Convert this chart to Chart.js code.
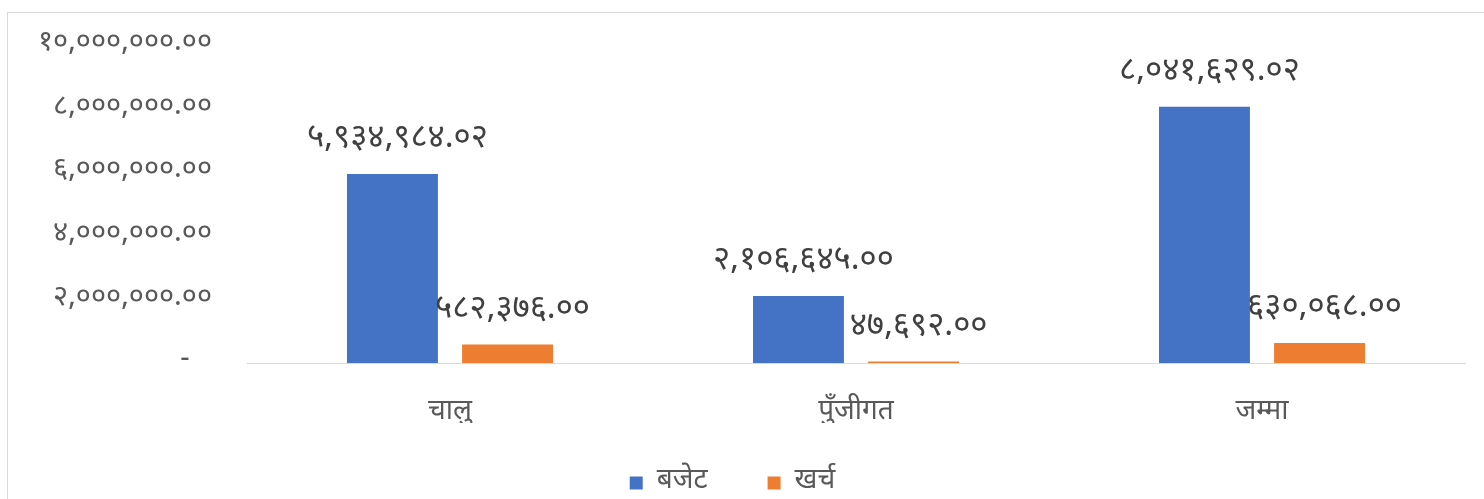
<!DOCTYPE html>
<html>
<head>
<meta charset="utf-8">
<script src="https://cdn.jsdelivr.net/npm/chart.js@4.4.1/dist/chart.umd.min.js"></script>
<style>
    html, body { margin: 0; padding: 0; width: 1484px; height: 499px; overflow: hidden; background: #fff; }
    #frame { position: absolute; left: 7px; top: 12px; width: 1600px; height: 600px; border: 1px solid #d9d9d9; box-sizing: border-box; }
    #wrap { position: absolute; left: 0; top: 0; width: 1484px; height: 560px; }
</style>
</head>
<body>
<div id="frame"></div>
<div id="wrap"><canvas id="budgetChart"></canvas></div>
<script>
/* ---- data ---- */
const categories = ["चालु", "पुँजीगत", "जम्मा"];
const budget  = [5934984.02, 2106645.00, 8041629.02];
const expense = [582376.00, 47692.00, 630068.00];
const seriesNames = ["बजेट", "खर्च"];
const yTicks = [0, 2000000, 4000000, 6000000, 8000000, 10000000];

const colors = { blue: "#4472C4", orange: "#ED7D31", axis: "#595959", label: "#404040", line: "#d9d9d9" };
const fontFamily = "'Noto Sans Devanagari', 'Mangal', 'Noto Sans', sans-serif";

const devDigits = "०१२३४५६७८९";
function toNepali(n) {
    const s = n.toLocaleString("en-US", { minimumFractionDigits: 2, maximumFractionDigits: 2 });
    return s.replace(/[0-9]/g, d => devDigits[+d]);
}

/* ---- value labels above bars ---- */
const barLabels = {
    id: "barLabels",
    afterDatasetsDraw(chart) {
        const { ctx } = chart;
        ctx.save();
        ctx.font = "33px " + fontFamily;
        ctx.fillStyle = colors.label;
        ctx.textAlign = "center";
        ctx.textBaseline = "middle";
        chart.data.datasets.forEach((ds, i) => {
            chart.getDatasetMeta(i).data.forEach((bar, j) => {
                ctx.fillText(toNepali(ds.data[j]), bar.x + 5, bar.y - 33);
            });
        });
        ctx.restore();
    }
};

new Chart(document.getElementById("budgetChart"), {
    type: "bar",
    data: {
        labels: categories,
        datasets: [
            { label: seriesNames[0], data: budget, backgroundColor: colors.blue },
            { label: seriesNames[1], data: expense, backgroundColor: colors.orange }
        ]
    },
    options: {
        responsive: true,
        maintainAspectRatio: false,
        animation: false,
        layout: { padding: { left: 0, right: 19, top: 27, bottom: 0 } },
        datasets: { bar: { categoryPercentage: 0.567, barPercentage: 0.79 } },
        plugins: {
            tooltip: { enabled: false },
            legend: {
                position: "bottom",
                labels: {
                    font: { family: fontFamily, size: 28 },
                    color: colors.axis,
                    boxWidth: 13,
                    boxHeight: 13,
                    padding: 46,
                    generateLabels(chart) {
                        const items = Chart.defaults.plugins.legend.labels.generateLabels(chart);
                        items.forEach((it, i) => { if (i < items.length - 1) it.text += "\u2002"; });
                        return items;
                    }
                }
            }
        },
        scales: {
            x: {
                grid: { display: false },
                border: { display: true, color: colors.line, width: 1 },
                ticks: { color: colors.axis, font: { family: fontFamily, size: 28 }, padding: 26 },
                afterFit(scale) { scale.height = 60; }
            },
            y: {
                min: 0,
                max: 10000000,
                grid: { display: false },
                border: { display: false },
                afterBuildTicks(scale) { scale.ticks = yTicks.map(v => ({ value: v })); },
                afterFit(scale) { scale.width = 247; },
                ticks: {
                    color: colors.axis,
                    font: { family: fontFamily, size: 29 },
                    padding: 27,
                    // accounting style: zero shows as a dash, indented
                    callback: v => v === 0 ? "- \u2002" : toNepali(v)
                }
            }
        }
    },
    plugins: [barLabels, {
        id: "legendBottom",
        beforeLayout(chart) {
            // canvas is taller than the window; legend text is cut at the bottom edge
            chart.options.layout.padding.bottom = chart.height - 507;
        }
    }]
});
</script>
</body>
</html>
